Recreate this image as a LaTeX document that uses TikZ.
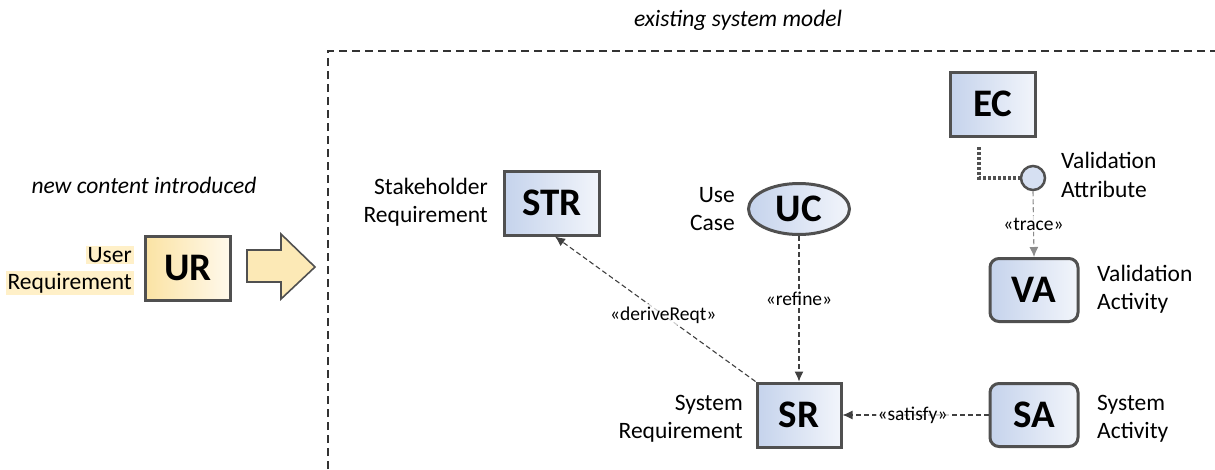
\documentclass[tikz,border=0pt]{standalone}
\usepackage{fontspec}
\setmainfont{Carlito}
\usetikzlibrary{arrows.meta,shapes.geometric}
\definecolor{bord}{HTML}{505050}
\definecolor{blueL}{HTML}{C5D3EC}
\definecolor{blueR}{HTML}{F2F5FB}
\definecolor{yelL}{HTML}{FBE3A4}
\definecolor{yelR}{HTML}{FFF9EC}
\definecolor{hl}{HTML}{FFF0C8}
\definecolor{lnk}{HTML}{404040}
\tikzset{
  elem/.style={draw=bord,line width=3pt,left color=blueL,right color=blueR,font=\fontsize{39}{40}\selectfont\bfseries,inner sep=0pt},
  blockbox/.style={elem,minimum width=#1,minimum height=64},
  roundbox/.style={elem,rounded corners=9,minimum width=88,minimum height=63},
  lbl/.style={font=\fontsize{23.5}{28.5}\selectfont,inner sep=0pt},
  lblL/.style={lbl,align=left,anchor=west},
  lblR/.style={lbl,align=right,anchor=east},
  ital/.style={font=\fontsize{23.5}{28}\selectfont\itshape,inner sep=0pt},
  rel/.style={draw=lnk,line width=1.1pt,dash pattern=on 5pt off 3pt,-{Latex[length=10,width=9]}},
  rellab/.style={font=\fontsize{19.5}{22}\selectfont,fill=white,fill opacity=0.75,text opacity=1,inner sep=2pt},
  frame/.style={draw=black!80,line width=1.8pt,dash pattern=on 8pt off 5pt}
}
\begin{document}
\begin{tikzpicture}[x=1pt,y=-1pt]
\useasboundingbox (0,0) rectangle (1215,469);
% frame
\coordinate (fb) at (328,469);
\coordinate (fc) at (328,51);
\coordinate (fr) at (1215,51);
\draw[frame] (fb) -- (fc) -- (fr);
\node[ital] (tex) at (738,20) {existing system model};
\node[ital] (tnew) at (144,185) {new content introduced};
% UR
\node[draw=bord,line width=3pt,left color=yelL,right color=yelR,minimum width=85,minimum height=64,inner sep=0pt,font=\fontsize{39}{40}\selectfont\bfseries] (UR) at (188,268) {UR};
\node[lbl,fill=hl,anchor=east,inner xsep=2pt,inner ysep=1pt] (ur1) at (134,255) {User};
\node[lbl,fill=hl,anchor=east,inner xsep=2pt,inner ysep=2pt] (ur2) at (134,283) {Requirement};
% block arrow
\draw[draw=bord,line width=1.6pt,fill=yelL!80!white] (247,250) -- (281,250) -- (281,234) -- (315,267) -- (281,299) -- (281,282) -- (247,282) -- cycle;
% STR
\node[blockbox=95] (STR) at (552,203) {STR};
\node[lblR] (lstr) at (488,202) {Stakeholder\\Requirement};
% UC
\node[ellipse,draw=bord,line width=3pt,left color=blueL,right color=blueR,minimum width=101,minimum height=51,inner sep=0pt,font=\fontsize{39}{40}\selectfont\bfseries] (UC) at (799,209) {UC};
\node[lblR] (luc) at (735,209) {Use\\Case};
% EC
\node[blockbox=85] (EC) at (993,104) {EC};
% validation attribute circle
\node[circle,draw=bord,line width=2.5pt,fill=blueL!70!white,minimum size=24,inner sep=0pt] (VAt) at (1033,178) {};
\node[lblL] (lvat) at (1061,175) {Validation\\Attribute};
\coordinate (ecd) at (979,147);
\coordinate (ecc) at (979,178);
\draw[draw=bord,line width=3.5pt,dash pattern=on 2.5pt off 2.5pt] (ecd) -- (ecc) -- (VAt.west);
% VA
\node[roundbox] (VA) at (1034,290) {VA};
\node[lblL] (lva) at (1097,289) {Validation\\Activity};
% SR
\node[blockbox=84] (SR) at (799,415) {SR};
\node[lblR] (lsr) at (743,419) {System\\Requirement};
% SA
\node[roundbox] (SA) at (1034,415) {SA};
\node[lblL] (lsa) at (1097,419) {System\\Activity};
% relations
\draw[rel,draw=lnk!60] (VAt.south) -- node[rellab] {«trace»} (VA.north);
\draw[rel] (UC.south) -- node[rellab,pos=0.43] {«refine»} (SR.north);
\draw[rel] (SA.west) -- node[rellab,pos=0.52] {«satisfy»} (SR.east);
\draw[rel] (SR.north west) -- node[rellab,pos=0.46] {«deriveReqt»} ([xshift=3pt]STR.south);
\end{tikzpicture}
\end{document}
